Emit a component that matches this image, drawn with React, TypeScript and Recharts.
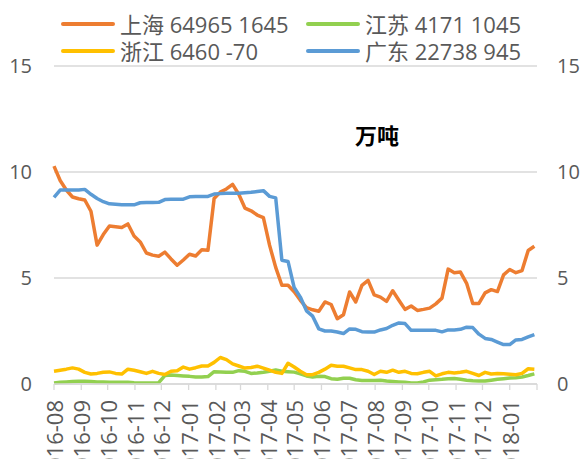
import React from 'react';
import { LineChart, Line, XAxis, YAxis, CartesianGrid } from 'recharts';

// ---- categories (weekly dates) ----
const START = Date.UTC(2016, 7, 5);
const DAY = 86400000;
const weekDates: string[] = Array.from({ length: 79 }, (_, i) => {
  const d = new Date(START + i * 7 * DAY);
  return d.toISOString().slice(0, 10);
});

// ---- tick labels ----
const monthLabels = [
  '2016-08', '2016-09', '2016-10', '2016-11', '2016-12', '2017-01', '2017-02', '2017-03', '2017-04',
  '2017-05', '2017-06', '2017-07', '2017-08', '2017-09', '2017-10', '2017-11', '2017-12', '2018-01', '2018-02',
];
const yTicks = [0, 5, 10, 15];

// ---- series values (万吨) ----
const shanghai = [10.28, 9.6, 9.15, 8.82, 8.74, 8.68, 8.15, 6.55, 7.05, 7.45, 7.42, 7.38, 7.55, 6.98, 6.7, 6.18, 6.08, 6.03, 6.22, 5.9, 5.6, 5.85, 6.12, 6.04, 6.33, 6.31, 8.75, 9.05, 9.2, 9.42, 8.95, 8.3, 8.17, 7.97, 7.85, 6.55, 5.5, 4.66, 4.66, 4.35, 3.95, 3.6, 3.5, 3.43, 3.87, 3.75, 3.08, 3.27, 4.34, 3.87, 4.65, 4.89, 4.2, 4.1, 3.9, 4.4, 3.95, 3.52, 3.68, 3.47, 3.52, 3.58, 3.78, 4.05, 5.42, 5.25, 5.28, 4.75, 3.8, 3.8, 4.3, 4.45, 4.36, 5.15, 5.4, 5.25, 5.35, 6.3, 6.5];
const jiangsu = [0.05, 0.08, 0.1, 0.12, 0.13, 0.13, 0.12, 0.1, 0.1, 0.08, 0.08, 0.08, 0.08, 0.06, 0.05, 0.05, 0.05, 0.06, 0.4, 0.42, 0.4, 0.38, 0.36, 0.33, 0.33, 0.35, 0.58, 0.57, 0.55, 0.55, 0.63, 0.6, 0.5, 0.52, 0.55, 0.6, 0.66, 0.6, 0.58, 0.56, 0.48, 0.38, 0.33, 0.36, 0.35, 0.25, 0.22, 0.27, 0.27, 0.2, 0.17, 0.17, 0.17, 0.18, 0.14, 0.12, 0.1, 0.08, 0.05, 0.05, 0.1, 0.18, 0.2, 0.22, 0.25, 0.26, 0.22, 0.18, 0.15, 0.14, 0.14, 0.18, 0.22, 0.25, 0.28, 0.3, 0.33, 0.4, 0.48];
const zhejiang = [0.6, 0.65, 0.7, 0.76, 0.7, 0.55, 0.47, 0.5, 0.55, 0.57, 0.5, 0.47, 0.7, 0.65, 0.58, 0.5, 0.6, 0.5, 0.45, 0.6, 0.62, 0.8, 0.7, 0.77, 0.85, 0.85, 1.02, 1.25, 1.15, 0.95, 0.85, 0.75, 0.78, 0.84, 0.75, 0.65, 0.55, 0.5, 0.98, 0.8, 0.6, 0.44, 0.44, 0.55, 0.7, 0.88, 0.84, 0.84, 0.76, 0.68, 0.68, 0.6, 0.45, 0.6, 0.55, 0.65, 0.55, 0.6, 0.5, 0.48, 0.55, 0.6, 0.38, 0.48, 0.55, 0.52, 0.55, 0.6, 0.5, 0.4, 0.55, 0.47, 0.5, 0.48, 0.46, 0.44, 0.5, 0.72, 0.7];
const guangdong = [8.8, 9.15, 9.15, 9.15, 9.15, 9.18, 8.95, 8.75, 8.6, 8.5, 8.48, 8.45, 8.45, 8.45, 8.55, 8.56, 8.56, 8.57, 8.7, 8.72, 8.72, 8.72, 8.83, 8.84, 8.84, 8.85, 8.96, 8.98, 9.0, 9.0, 9.0, 9.02, 9.04, 9.08, 9.12, 8.85, 8.78, 5.84, 5.78, 4.55, 4.1, 3.45, 3.2, 2.6, 2.5, 2.5, 2.45, 2.38, 2.6, 2.58, 2.47, 2.45, 2.45, 2.55, 2.62, 2.77, 2.88, 2.85, 2.53, 2.53, 2.53, 2.53, 2.53, 2.46, 2.55, 2.55, 2.58, 2.68, 2.66, 2.35, 2.15, 2.1, 1.98, 1.86, 1.86, 2.08, 2.1, 2.22, 2.33];

const series = [
  { key: 'sh', name: '上海 64965 1645', color: '#ED7D31', values: shanghai },
  { key: 'js', name: '江苏 4171 1045', color: '#92D050', values: jiangsu },
  { key: 'zj', name: '浙江 6460 -70', color: '#FFC000', values: zhejiang },
  { key: 'gd', name: '广东 22738 945', color: '#5B9BD5', values: guangdong },
];

const toDay = (s: string) => {
  const [y, m, d] = s.split('-').map(Number);
  return (Date.UTC(y, m - 1, d || 5) - START) / DAY;
};

const data = weekDates.map((date, i) => {
  const row: any = { d: toDay(date), date };
  series.forEach((s) => (row[s.key] = s.values[i]));
  return row;
});

const monthTicks = monthLabels.map((l) => toDay(l));
const lastLabel = monthLabels.length - 1;

const FONT = '"Open Sans", "Noto Sans CJK SC", sans-serif';

const XTick = (props: any) => {
  const { x, y, index } = props;
  if (index === lastLabel) return null;
  const label = monthLabels[index] ?? '';
  return (
    <text
      x={x}
      y={y}
      transform={`rotate(-90, ${x}, ${y})`}
      textAnchor="end"
      dominantBaseline="central"
      fill="#595959"
      fontSize={22}
      fontFamily={FONT}
    >
      {label}
    </text>
  );
};

export default function App() {
  return (
    <div style={{ position: 'absolute', left: 0, top: 0, width: 583, height: 459, background: '#fff', fontFamily: FONT }}>
      <LineChart width={583} height={459} data={data} margin={{ top: 66, right: 0, bottom: 0, left: 0 }}>
        <CartesianGrid vertical={false} stroke="#d9d9d9" strokeWidth={1.3} />
        <XAxis
          dataKey="d"
          type="number"
          domain={[0, monthTicks[monthTicks.length - 1]]}
          ticks={monthTicks}
          interval={0}
          height={75}
          tick={<XTick />}
          tickSize={6}
          tickMargin={10}
          stroke="#d9d9d9"
          axisLine={{ stroke: '#d9d9d9', strokeWidth: 1.3 }}
          tickLine={{ stroke: '#d9d9d9', strokeWidth: 1.3 }}
        />
        <YAxis
          domain={[0, 15]}
          ticks={yTicks}
          width={54}
          axisLine={false}
          tickLine={false}
          tickMargin={16}
          tick={{ fill: '#595959', fontSize: 20, fontFamily: FONT }}
        />
        <YAxis
          yAxisId="r"
          orientation="right"
          domain={[0, 15]}
          ticks={yTicks}
          width={46}
          axisLine={false}
          tickLine={false}
          tickMargin={14}
          tick={{ fill: '#595959', fontSize: 20, fontFamily: FONT }}
        />
        {series.map((s) => (
          <Line
            key={s.key}
            yAxisId={s.key === 'gd' ? 'r' : 0}
            dataKey={s.key}
            name={s.name}
            stroke={s.color}
            strokeWidth={3.5}
            dot={false}
            activeDot={false}
            type="linear"
            strokeLinejoin="round"
            isAnimationActive={false}
          />
        ))}
      </LineChart>
      {series.map((s, i) => {
        const col = i % 2;
        const row = Math.floor(i / 2);
        return (
          <div
            key={s.key}
            style={{
              position: 'absolute',
              left: col === 0 ? 61 : 306,
              top: 24 + row * 27 - 13,
              height: 26,
              display: 'flex',
              alignItems: 'center',
              whiteSpace: 'nowrap',
            }}
          >
            <div style={{ width: 54, height: 4, borderRadius: 2, background: s.color }} />
            <span style={{ marginLeft: 5, fontSize: 22, color: '#595959', lineHeight: '26px' }}>{s.name}</span>
          </div>
        );
      })}
      <div
        style={{
          position: 'absolute',
          left: 355,
          top: 121,
          fontSize: 22,
          fontWeight: 'bold',
          color: '#000',
          lineHeight: '28px',
        }}
      >
        万吨
      </div>
    </div>
  );
}
